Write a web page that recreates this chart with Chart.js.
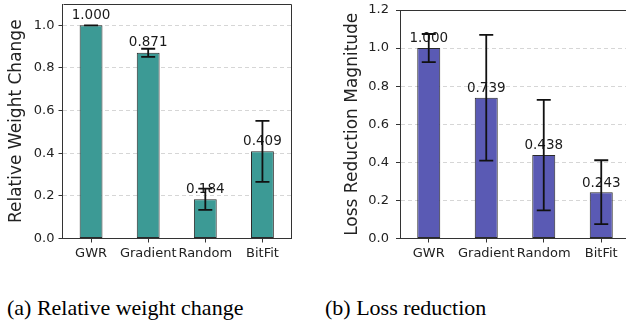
<!DOCTYPE html>
<html>
<head>
<meta charset="utf-8">
<script src="https://cdn.jsdelivr.net/npm/chart.js@4.4.0/dist/chart.umd.min.js"></script>
<style>
html, body { margin: 0; padding: 0; background: #fff; overflow: hidden; width: 626px; height: 328px; }
#wrap { position: relative; width: 626px; height: 328px; overflow: hidden; }
canvas { position: absolute; top: 0; }
#chartA { left: 0; }
#chartB { left: 313px; }
.cap { position: absolute; font-family: "Liberation Serif", serif; font-size: 22px; line-height: 1; color: #000; white-space: nowrap; }
</style>
</head>
<body>
<div id="wrap">
  <canvas id="chartA" width="300" height="268"></canvas>
  <canvas id="chartB" width="320" height="268"></canvas>
  <div class="cap" style="left:7px; top:297px;">(a) Relative weight change</div>
  <div class="cap" style="left:325px; top:297px;">(b) Loss reduction</div>
</div>
<script>
const methods = ['GWR', 'Gradient', 'Random', 'BitFit'];

const weightChange = [1.000, 0.871, 0.184, 0.409];
const weightErr = [0.0, 0.019, 0.05, 0.143];
const weightTicks = [0, 0.2, 0.4, 0.6, 0.8, 1.0];

const lossReduction = [1.000, 0.739, 0.438, 0.243];
const lossErr = [0.074, 0.33, 0.29, 0.168];
const lossTicks = [0, 0.2, 0.4, 0.6, 0.8, 1.0, 1.2];

const FONT = 'DejaVu Sans';

// value labels + error bars + top/right spines
const extras = {
    id: 'extras',
    afterDatasetsDraw(chart) {
        const ctx = chart.ctx;
        const y = chart.scales.y;
        const ds = chart.data.datasets[0];
        const meta = chart.getDatasetMeta(0);
        const errs = ds.errors;

        ctx.save();
        ctx.font = '13.5px "' + FONT + '"';
        ctx.fillStyle = '#1a1a1a';
        ctx.textAlign = 'center';
        ctx.textBaseline = 'alphabetic';
        meta.data.forEach((bar, i) => {
            ctx.fillText(ds.data[i].toFixed(3), bar.x, y.getPixelForValue(ds.data[i] + 0.03));
        });

        ctx.strokeStyle = '#111';
        ctx.lineWidth = 1.8;
        meta.data.forEach((bar, i) => {
            const top = y.getPixelForValue(ds.data[i] + errs[i]);
            const bot = y.getPixelForValue(ds.data[i] - errs[i]);
            ctx.beginPath();
            ctx.moveTo(bar.x, top);
            ctx.lineTo(bar.x, bot);
            ctx.moveTo(bar.x - 7, top);
            ctx.lineTo(bar.x + 7, top);
            ctx.moveTo(bar.x - 7, bot);
            ctx.lineTo(bar.x + 7, bot);
            ctx.stroke();
        });
        ctx.restore();
    },
    afterDraw(chart) {
        const a = chart.chartArea;
        const ctx = chart.ctx;
        ctx.save();
        ctx.strokeStyle = '#333';
        ctx.lineWidth = 1;
        ctx.beginPath();
        ctx.moveTo(Math.round(a.left) + 0.5, Math.round(a.top) + 0.5);
        ctx.lineTo(Math.round(a.right) + 0.5, Math.round(a.top) + 0.5);
        ctx.lineTo(Math.round(a.right) + 0.5, Math.round(a.bottom));
        ctx.stroke();
        ctx.restore();
    }
};

function makeChart(id, values, errors, ticks, maxY, color, title, cfg) {
    return new Chart(document.getElementById(id), {
        type: 'bar',
        data: {
            labels: methods,
            datasets: [{
                data: values,
                errors: errors,
                backgroundColor: color,
                borderColor: '#2a2a2a',
                borderWidth: 1,
                borderSkipped: false,
                barPercentage: 0.4,
                categoryPercentage: 1
            }]
        },
        options: {
            responsive: false,
            animation: false,
            devicePixelRatio: 1,
            layout: { padding: { left: 0, top: cfg.top, right: cfg.right, bottom: 0 } },
            plugins: { legend: { display: false }, tooltip: { enabled: false } },
            scales: {
                x: {
                    offset: true,
                    grid: { offset: false, drawOnChartArea: false, color: '#333', tickColor: '#333', tickLength: 4 },
                    border: { color: '#333', width: 1 },
                    ticks: { font: { family: FONT, size: 13 }, color: '#222', padding: 3, maxRotation: 0, autoSkip: false },
                    afterFit: s => { s.height = 29.5; s.paddingLeft = 0; s.paddingRight = 0; }
                },
                y: {
                    min: 0,
                    max: maxY,
                    afterBuildTicks: s => { s.ticks = ticks.map(v => ({ value: v })); },
                    grid: {
                        color: c => (c.tick && c.tick.value === 0) ? 'rgba(0,0,0,0)' : '#d6d6d6',
                        tickColor: '#333',
                        tickLength: 4,
                        tickBorderDash: []
                    },
                    border: { color: '#333', width: 1, dash: [4, 3] },
                    ticks: {
                        font: { family: FONT, size: 13 },
                        color: '#222',
                        padding: cfg.tickPad,
                        callback: v => Number(v).toFixed(1)
                    },
                    title: {
                        display: true,
                        text: title,
                        font: { family: FONT, size: 17 },
                        color: '#222',
                        padding: { top: cfg.titlePad, bottom: 0 }
                    },
                    afterFit: s => { s.width = cfg.yWidth; s.paddingTop = 0; s.paddingBottom = 0; }
                }
            }
        },
        plugins: [extras]
    });
}

makeChart('chartA', weightChange, weightErr, weightTicks, 1.1, '#3c9a95', 'Relative Weight Change',
    { top: 4, right: 9, yWidth: 62.5, tickPad: 4, titlePad: 6 });
makeChart('chartB', lossReduction, lossErr, lossTicks, 1.2, '#5a5ab4', 'Loss Reduction Magnitude',
    { top: 10, right: 3, yWidth: 87, tickPad: 7, titlePad: 29 });
</script>
</body>
</html>
